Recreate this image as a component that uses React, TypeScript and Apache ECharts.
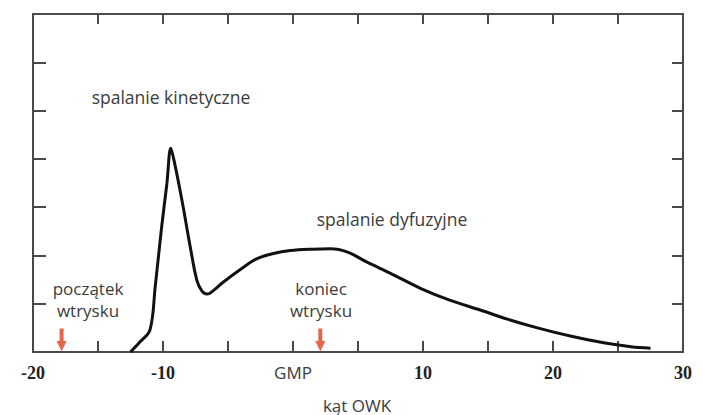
import React, { useEffect, useRef } from "react";
import * as echarts from "echarts";

// crank angle (deg, relative to TDC) and heat release rate (arbitrary units)
const angle = [-12.5, -11.8, -11.0, -10.6, -10.1, -9.7, -9.4, -9.1, -8.5, -7.9, -7.4, -7.0, -6.6, -6.0, -5.4, -4.0, -2.8, -1.5, -0.2, 1.5, 2.9, 4.2, 5.7, 7.5, 9.8, 12.0, 14.4, 16.5, 18.8, 21.5, 23.9, 26.0, 27.5];
const rate = [0, 0.2, 0.46, 1.35, 2.6, 3.49, 4.22, 3.9, 3.08, 2.17, 1.49, 1.26, 1.2, 1.3, 1.44, 1.72, 1.93, 2.04, 2.1, 2.13, 2.14, 2.07, 1.86, 1.63, 1.32, 1.08, 0.87, 0.68, 0.5, 0.32, 0.19, 0.11, 0.08];

// injection start / end markers
const injectionX = [-17.8, 2.1];

const xTickLabels: Record<number, string> = { [-20]: "-20", [-10]: "-10", 0: "GMP", 10: "10", 20: "20", 30: "30" };

const AXIS_COLOR = "#4a4a4a";
const TEXT_COLOR = "#3c3c3c";
const SANS = "'Open Sans', 'Noto Sans', sans-serif";

export default function App() {
  const ref = useRef<HTMLDivElement>(null);
  useEffect(() => {
    if (!ref.current) return;
    const chart = echarts.init(ref.current, undefined, { renderer: "svg" });
    const axisLine = { show: true, onZero: false, lineStyle: { color: AXIS_COLOR, width: 2 } };
    const axisTick = { show: true, inside: true, length: 11, lineStyle: { color: AXIS_COLOR, width: 2 } };
    chart.setOption({
      animation: false,
      backgroundColor: "#ffffff",
      grid: { left: 33, right: 20, top: 14, bottom: 63 },
      xAxis: [
        {
          type: "value",
          min: -20,
          max: 30,
          interval: 5,
          position: "bottom",
          axisLine,
          axisTick,
          splitLine: { show: false },
          axisLabel: {
            margin: 12,
            formatter: (v: number) => {
              const s = xTickLabels[v];
              if (s === undefined) return "";
              return v === 0 ? `{g|${s}}` : `{n|${s}}`;
            },
            rich: {
              n: { fontFamily: "'Liberation Serif', 'DejaVu Serif', serif", fontWeight: "bold", fontSize: 18, color: "#222" },
              g: { fontFamily: SANS, fontSize: 17, color: TEXT_COLOR },
            },
          },
        },
        {
          type: "value",
          min: -20,
          max: 30,
          interval: 5,
          position: "top",
          axisLine,
          axisTick: { ...axisTick, length: 10 },
          splitLine: { show: false },
          axisLabel: { show: false },
        },
      ],
      yAxis: [
        {
          type: "value",
          min: 0,
          max: 7,
          interval: 1,
          position: "left",
          axisLine,
          axisTick: { ...axisTick, length: 13 },
          splitLine: { show: false },
          axisLabel: { show: false },
        },
        {
          type: "value",
          min: 0,
          max: 7,
          interval: 1,
          position: "right",
          axisLine,
          axisTick: { ...axisTick, length: 11 },
          splitLine: { show: false },
          axisLabel: { show: false },
        },
      ],
      series: [
        {
          type: "line",
          data: angle.map((a, i) => [a, rate[i]]),
          smooth: 0.35,
          showSymbol: false,
          lineStyle: { color: "#111", width: 3 },
          z: 3,
        },
        {
          type: "scatter",
          data: injectionX.map((x) => [x, 0]),
          symbol: "path://M3,0 L7,0 L7,12 L10,12 L5,22 L0,12 L3,12 Z",
          symbolSize: [10, 23],
          symbolOffset: [0, -12],
          itemStyle: { color: "#e0401e" },
          z: 4,
        },
      ],
      graphic: [
        { type: "text", x: 171, y: 97, style: { text: "spalanie kinetyczne", fontFamily: SANS, fontSize: 17.5, fill: TEXT_COLOR, textAlign: "center", textVerticalAlign: "middle" } },
        { type: "text", x: 392, y: 219, style: { text: "spalanie dyfuzyjne", fontFamily: SANS, fontSize: 17.5, fill: TEXT_COLOR, textAlign: "center", textVerticalAlign: "middle" } },
        { type: "text", x: 88, y: 299, style: { text: "początek\nwtrysku", fontFamily: SANS, fontSize: 17, lineHeight: 22, fill: TEXT_COLOR, textAlign: "center", textVerticalAlign: "middle" } },
        { type: "text", x: 321, y: 299, style: { text: "koniec\nwtrysku", fontFamily: SANS, fontSize: 17, lineHeight: 22, fill: TEXT_COLOR, textAlign: "center", textVerticalAlign: "middle" } },
        { type: "text", x: 357, y: 405, style: { text: "kąt OWK", fontFamily: SANS, fontSize: 17, fill: TEXT_COLOR, textAlign: "center", textVerticalAlign: "middle" } },
      ],
    });
    return () => chart.dispose();
  }, []);
  return <div ref={ref} style={{ width: 703, height: 415, position: "absolute", left: 0, top: 0 }} />;
}
